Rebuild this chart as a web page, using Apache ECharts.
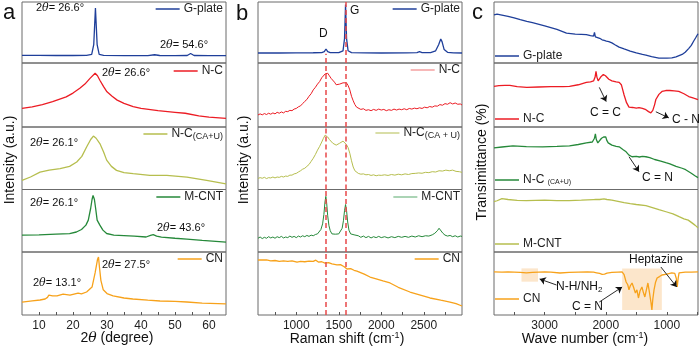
<!DOCTYPE html>
<html>
<head>
<meta charset="utf-8">
<script src="https://cdn.jsdelivr.net/npm/echarts@6/dist/echarts.min.js"></script>
<style>
html, body { margin: 0; padding: 0; background: #fff; }
#chart { width: 700px; height: 346px; }
</style>
</head>
<body>
<div id="chart"></div>
<script>
// ---- data (y values are relative intensity inside each stacked strip, 0-100) ----

// panel a: XRD, 2theta (degree)
const xrdGplate = [[5,12.5],[10,12.5],[15,12.3],[20,12.3],[24,12.5],[25.5,14],[26.1,30],[26.6,90],[27.1,30],[27.7,14],[29,12.5],[35,12.2],[42,12.2],[44,13.5],[45.5,12.3],[50,12],[53.6,12.3],[54.6,15.5],[55.6,12.3],[60,12],[65,12]];
const xrdNC = [[5,29],[8,31.5],[11,35],[14,39.5],[18,47],[20,53],[22,60.5],[23.5,67],[25,76],[26.5,84],[27.2,80],[27.9,73],[29,63],[30,55],[31.5,48],[33,42],[35,37],[37.7,32],[40,29],[45,25.5],[50,23],[53,21.5],[57,17.5],[60,15.5],[65,13.5]];
const xrdNCCAU = [[5,14.5],[7.5,20],[10.3,27.9],[13,31],[16.2,33.3],[19,37],[21.1,44],[22.6,53],[24,68],[25.2,80],[26,85.5],[26.8,82],[27.9,73.5],[29,60],[29.9,47],[31.3,37],[32.8,30.6],[35,27],[37.7,25.3],[42.6,22.6],[47.6,22.6],[53.5,19.9],[59.3,14.5],[65,9.1]];
const xrdMCNT = [[5,27],[10,27.5],[15,28.6],[19,29.5],[21,32],[22.5,36],[23.8,43],[24.5,51],[25.2,70],[25.6,84],[25.9,90.5],[26.3,84],[26.7,68],[27.1,51],[27.9,43],[28.8,35],[29.9,29.6],[32,27],[38,25.4],[41.5,24],[42.8,26.5],[43.6,27.8],[44.6,25.5],[46,23.8],[50,22],[53.5,20.6],[58,18.5],[65,15.9]];
const xrdCN = [[5,20.6],[8,22.5],[10.3,23.8],[11.8,25.4],[12.5,28],[12.9,31.7],[14,30.5],[15.3,30.2],[17.1,33.3],[19.1,31.7],[21.5,34.9],[22.5,33.5],[24,36.5],[25.6,44.4],[26.5,66.7],[27.2,88],[27.5,92],[27.8,75],[28.2,55],[28.9,40],[30,34],[31.8,30.2],[35,27],[37.6,25.4],[42,23.5],[45.6,22.2],[50,21.5],[53.5,20.6],[58,19],[65,17.5]];

// panel b: Raman shift (cm-1)
const ramanGplate = [[550,16.4],[800,16.4],[1000,16.6],[1200,16.8],[1300,17],[1330,18.5],[1350,23],[1370,18.5],[1400,17],[1500,17],[1550,20],[1568,40],[1580,96],[1592,40],[1610,20],[1650,17],[1800,16.6],[2000,16.4],[2300,16.5],[2420,17],[2450,18.5],[2480,17],[2580,17],[2640,20],[2675,30],[2700,39.3],[2715,35],[2740,22],[2780,17.5],[2850,16.5],[2950,16.4]];
const ramanNC = [[550,18.8],[575,20.5],[600,19],[625,21],[650,19.5],[675,21.5],[700,20],[725,22],[750,20.5],[775,23],[800,21.5],[825,23.5],[850,22],[875,24.5],[900,24],[925,26],[950,25.5],[975,28],[1000,29],[1025,31.5],[1050,33],[1075,36.5],[1100,40],[1125,43],[1150,48],[1175,52],[1200,58],[1225,62],[1250,67],[1275,71],[1300,77],[1320,80],[1340,83],[1355,86],[1370,84],[1390,80],[1410,76],[1430,73],[1450,70],[1470,66],[1490,64],[1510,67],[1530,66],[1550,69],[1570,71],[1590,69],[1610,65],[1630,58],[1650,48],[1670,41],[1690,35],[1710,31],[1730,29],[1760,27.5],[1790,28.5],[1820,26],[1850,27],[1880,25.5],[1910,27.5],[1940,26],[1970,28],[2000,26.5],[2030,27.5],[2060,25.5],[2090,27],[2120,26],[2150,28],[2180,26.5],[2210,28],[2240,27],[2270,28.5],[2300,27],[2330,29],[2360,28],[2390,29.5],[2420,28.5],[2450,30],[2480,29],[2510,31],[2540,30],[2570,32],[2600,31],[2630,33],[2660,32.5],[2690,35],[2720,34],[2750,36.5],[2780,35.5],[2810,38],[2840,36],[2870,37.5],[2900,35.5],[2930,36],[2950,34.4]];
const ramanNCCAU = [[550,17.7],[575,19],[600,18],[625,19.5],[650,17.5],[675,19],[700,18.5],[725,20],[750,18.5],[775,20],[800,19.4],[825,21],[850,20],[875,21.5],[900,21],[925,23],[950,23],[975,25],[1000,25.8],[1025,28],[1050,30],[1075,32.5],[1100,34],[1125,37],[1150,40],[1175,45],[1200,50],[1225,56],[1250,63],[1275,69],[1300,76],[1320,82],[1340,87],[1355,86],[1370,84],[1390,80],[1410,77],[1430,74],[1450,72],[1470,71],[1490,72],[1510,74],[1530,76],[1550,77.4],[1570,76],[1590,72],[1610,67],[1630,58],[1650,46],[1670,36],[1690,30],[1710,27],[1730,25.8],[1760,24.5],[1790,25],[1820,23.5],[1850,24],[1880,22.5],[1910,23.5],[1940,22],[1970,23],[2000,22.6],[2040,23.5],[2080,22.5],[2120,24],[2160,23],[2200,24.5],[2240,23.5],[2280,25],[2320,24],[2360,25.5],[2400,25.8],[2440,26.5],[2480,26],[2520,27.5],[2560,27],[2600,28.5],[2640,28],[2680,30],[2720,29.5],[2760,31],[2800,30],[2840,31],[2880,29],[2920,28.5],[2950,27.4]];
const ramanMCNT = [[550,22],[575,24],[600,21.5],[625,23.5],[650,22],[675,24.5],[700,22.5],[725,24],[750,22],[775,24.5],[800,23],[825,25],[850,22.5],[875,24],[900,23],[925,25.5],[950,23.5],[975,25],[1000,23],[1025,25.5],[1050,24],[1075,26],[1100,24.5],[1125,26.5],[1150,25],[1175,27],[1200,26],[1225,28],[1250,29],[1270,31],[1290,36],[1310,45],[1325,60],[1338,80],[1348,89],[1358,78],[1370,58],[1385,42],[1400,34],[1420,29],[1440,27],[1460,28.5],[1480,27],[1500,29],[1520,31],[1540,38],[1555,50],[1568,66],[1580,76],[1592,66],[1605,48],[1620,35],[1640,29],[1660,26],[1680,27.5],[1700,24.5],[1730,26],[1760,23.5],[1790,25.5],[1820,23],[1850,25],[1880,22.5],[1910,24.5],[1940,23],[1970,25],[2000,23],[2040,24.5],[2080,22.5],[2120,24.5],[2160,23],[2200,25],[2240,23.5],[2280,25],[2320,23.5],[2360,25.5],[2400,24],[2440,26],[2480,24.5],[2520,26],[2560,25.5],[2600,27.5],[2630,30],[2660,34],[2680,38],[2700,35],[2725,30],[2750,27],[2780,25.5],[2810,26.5],[2840,24.5],[2870,26],[2900,24],[2930,25.5],[2950,25]];
const ramanCN = [[550,87.3],[650,87.5],[700,86],[750,86.5],[800,85],[850,86],[900,85],[950,86],[1009,84.1],[1050,85],[1100,84.5],[1150,85.5],[1200,85],[1230,87],[1260,84],[1300,84.5],[1338,82.5],[1380,83],[1420,81],[1479,79.4],[1520,80],[1560,77],[1597,73],[1640,73.5],[1680,71],[1714,69.8],[1800,65],[1868,60.3],[1950,57],[2020,54],[2103,50.8],[2200,44],[2338,36.5],[2450,32],[2573,27],[2700,23.5],[2809,20.6],[2880,18],[2950,14.3]];
const ramanBands = [1350, 1580]; // D, G

// panel c: FTIR, wave number (cm-1)
const ftirGplate = [[3830,79],[3780,80],[3700,78.5],[3600,76.5],[3500,74],[3400,71],[3293,68.2],[3200,66],[3000,61],[2800,55],[2643,49],[2500,47.5],[2400,47],[2318,46.5],[2250,45],[2200,44],[2185,50],[2170,43],[2100,40.5],[2060,38],[2040,41],[2025,37],[2010,40],[1990,36],[1950,35],[1900,33],[1850,30],[1782,26],[1700,23],[1600,19.5],[1500,16.5],[1400,14],[1343,13],[1250,10.5],[1130,8.1],[1000,8],[918,8.5],[850,10],[750,14],[700,17.7],[640,24],[600,29],[560,36],[530,41],[490,48]];
const ftirNC = [[3830,63.5],[3750,64.5],[3650,65],[3570,65.1],[3450,63],[3293,62],[3100,62.5],[2900,63],[2700,63],[2594,63.5],[2450,66],[2318,69.8],[2250,70.5],[2200,72],[2175,78],[2160,87],[2145,78],[2125,72],[2100,74],[2075,79],[2060,78],[2040,82],[2024,84],[2005,80],[1990,83],[1976,81],[1950,74.6],[1900,72],[1830,70.5],[1780,69.8],[1745,66],[1733,62],[1700,50],[1660,38],[1620,31],[1560,30.5],[1500,29.5],[1457,30.2],[1400,29],[1343,27],[1300,24],[1262,22],[1230,26],[1200,35],[1180,43],[1130,51],[1080,55.5],[1017,57],[950,57],[880,56.5],[805,55.6],[720,52],[642,47.6],[560,45],[490,42.9]];
const ftirNCCAU = [[3830,66.7],[3700,68],[3520,69.8],[3300,68.5],[3033,68.3],[2800,69],[2594,69.8],[2450,72],[2318,74.6],[2220,76],[2185,82],[2170,88.9],[2155,80],[2130,74.6],[2100,77],[2070,82],[2057,81],[2035,84],[2000,84.1],[1985,79],[1960,74.6],[1900,71],[1830,69],[1780,68.3],[1720,64],[1667,60.3],[1620,55],[1570,52.4],[1500,53],[1450,52],[1400,53],[1343,52.4],[1280,51],[1200,48],[1100,45.5],[1017,42.9],[950,41],[850,37],[750,34],[692,31.7],[600,26],[540,22],[490,19]];
const ftirMCNT = [[3830,80.6],[3780,82],[3700,85.5],[3600,84],[3450,82.5],[3300,82.3],[3000,83],[2800,82.3],[2600,82.3],[2400,83],[2200,83.9],[2180,86],[2165,84],[2100,84],[2030,85],[2000,87],[1980,84],[1900,83],[1780,80.6],[1700,79],[1600,77.4],[1500,76],[1343,74.2],[1250,71.5],[1130,67.7],[1000,64],[900,61],[800,56.5],[720,53],[650,51],[594,47],[540,43],[490,38.7]];
const ftirCN = [[3830,68.3],[3700,68],[3600,68.5],[3500,68],[3400,67.5],[3300,67],[3200,67.5],[3100,68],[3000,68.3],[2900,68],[2750,66.7],[2600,67.5],[2450,68],[2300,68.3],[2200,68],[2150,67],[2100,66],[2060,64.5],[2020,65],[1980,66.5],[1900,67.5],[1800,68],[1733,68.3],[1700,64],[1667,52.4],[1640,48],[1620,40],[1600,46],[1570,50.8],[1545,44],[1515,35],[1490,40],[1465,27],[1440,38],[1408,44.4],[1385,36],[1360,28.6],[1335,40],[1310,50.8],[1285,36],[1260,20],[1245,8],[1230,25],[1210,40],[1185,52],[1160,58.7],[1120,61],[1080,63.5],[1000,65],[920,66.7],[870,66],[845,58],[830,44.4],[815,58],[800,66.7],[700,68],[600,68],[490,68.3]];
const ftirBoxes = [[3380, 3110, 52.9, 74], [1732, 1082, 7.9, 74]];
// arrows: [x1, y1, x2, y2] in the strip's own data units
const arrowsNC = [[2106, 61.9, 1993, 39.7], [1180, 23.8, 968, 14.3]];
const arrowsNCCAU = [[1619, 52.4, 1456, 28.6]];
const arrowsCN = [[1098, 76.2, 838, 44.4], [2806, 47.6, 3082, 57.1], [2106, 20.6, 1732, 44.4]];

// tick values
const xrdTicks = [10, 15, 20, 25, 30, 35, 40, 45, 50, 55, 60];
const xrdLabels = [10, 20, 30, 40, 50, 60];
const ramanTicks = [750, 1000, 1250, 1500, 1750, 2000, 2250, 2500, 2750];
const ramanLabels = [1000, 1500, 2000, 2500];
const ftirTicks = [500, 1000, 1500, 2000, 2500, 3000, 3500];
const ftirLabels = [1000, 2000, 3000];

// ---- layout ----
const FONT = 'Liberation Sans, Arial, sans-serif';
const rowTops = [2, 63, 127, 189.5, 252];
const rowBottom = 315;
const C = { blue: '#1f3f9a', red: '#ec1c24', olive: '#b6be4e', green: '#26893a', orange: '#f7a21b' };

const panels = [
  { key: 'a', left: 22, width: 204, min: 5, max: 65, inverse: false, ticks: xrdTicks, labels: xrdLabels,
    legendSide: 'right', legendEdge: 223, legendY: [10, 72, 135, 198, 260],
    curves: [
      { data: xrdGplate, color: C.blue, label: 'G-plate' },
      { data: xrdNC, color: C.red, label: 'N-C' },
      { data: xrdNCCAU, color: C.olive, label: 'N-C{s|(CA+U)}' },
      { data: xrdMCNT, color: C.green, label: 'M-CNT' },
      { data: xrdCN, color: C.orange, label: 'CN' }
    ] },
  { key: 'b', left: 258, width: 204, min: 550, max: 2950, inverse: false, ticks: ramanTicks, labels: ramanLabels,
    legendSide: 'right', legendEdge: 460, legendY: [10, 71, 134, 198, 260],
    curves: [
      { data: ramanGplate, color: C.blue, label: 'G-plate' },
      { data: ramanNC, color: C.red, legendColor: '#f5a0a0', label: 'N-C', w: 1 },
      { data: ramanNCCAU, color: C.olive, legendColor: '#cdd38a', label: 'N-C{s|(CA + U)}', w: 1 },
      { data: ramanMCNT, color: C.green, legendColor: '#8fc69c', label: 'M-CNT', w: 1 },
      { data: ramanCN, color: C.orange, label: 'CN' }
    ] },
  { key: 'c', left: 494, width: 204, min: 490, max: 3830, inverse: true, ticks: ftirTicks, labels: ftirLabels,
    legendSide: 'left', legendEdge: 495, legendY: [57, 120, 181, 245, 300],
    curves: [
      { data: ftirGplate, color: C.blue, label: 'G-plate' },
      { data: ftirNC, color: C.red, label: 'N-C', arrows: arrowsNC },
      { data: ftirNCCAU, color: C.green, label: 'N-C {t|(CA+U)}', arrows: arrowsNCCAU },
      { data: ftirMCNT, color: C.olive, label: 'M-CNT' },
      { data: ftirCN, color: C.orange, label: 'CN', arrows: arrowsCN, boxes: ftirBoxes }
    ] }
];

const legendRich = {
  s: { fontSize: 9, fontFamily: FONT, color: '#222', padding: [5, 0, 0, 0] },
  t: { fontSize: 7, fontFamily: FONT, color: '#222', padding: [4, 0, 0, 0] }
};

const grids = [], xAxes = [], yAxes = [], series = [], legends = [];

panels.forEach(function (p) {
  p.curves.forEach(function (c, ri) {
    const idx = grids.length;
    const top = rowTops[ri];
    const h = (ri < 4 ? rowTops[ri + 1] : rowBottom) - top;
    const last = ri === 4;
    grids.push({ left: p.left, top: top, width: p.width, height: h, show: true,
      borderColor: '#6b6b6b', borderWidth: 1, backgroundColor: 'transparent' });
    xAxes.push({
      type: 'value', gridIndex: idx, min: p.min, max: p.max, inverse: p.inverse,
      axisLine: { show: false }, splitLine: { show: false },
      axisTick: { show: last, inside: true, length: 3, customValues: p.ticks, lineStyle: { color: '#555' } },
      axisLabel: { show: last, customValues: p.labels, margin: 5, fontSize: 12, color: '#222', fontFamily: FONT,
        formatter: function (v) { return String(v); } }
    });
    yAxes.push({ type: 'value', gridIndex: idx, min: 0, max: 100, show: false });

    const name = p.key + ri;
    const s = {
      type: 'line', name: name, xAxisIndex: idx, yAxisIndex: idx, data: c.data,
      showSymbol: false, symbol: 'none', animation: false, silent: true,
      lineStyle: { color: c.color, width: c.w || 1.3 }, itemStyle: { color: c.color }
    };
    if (p.key === 'b') {
      // dashed D / G guide lines
      const bandData = ri === 0
        ? [[{ coord: [ramanBands[0], 0] }, { coord: [ramanBands[0], 15] }],
           [{ coord: [ramanBands[1], 0] }, { coord: [ramanBands[1], 100] }]]
        : ramanBands.map(function (v) { return { xAxis: v }; });
      s.markLine = { silent: true, symbol: 'none', animation: false, label: { show: false },
        lineStyle: { color: '#e8484a', type: [5, 3], width: 1.5 }, data: bandData };
    }
    if (c.arrows) {
      s.markLine = { silent: true, symbol: ['none', 'arrow'], symbolSize: 6, animation: false,
        label: { show: false }, lineStyle: { color: '#111', type: 'solid', width: 0.9 },
        data: c.arrows.map(function (a) { return [{ coord: [a[0], a[1]] }, { coord: [a[2], a[3]] }]; }) };
    }
    if (c.boxes) {
      s.markArea = { silent: true, animation: false, itemStyle: { color: 'rgba(248,200,140,0.45)' },
        data: c.boxes.map(function (b) { return [{ coord: [b[0], b[2]] }, { coord: [b[1], b[3]] }]; }) };
    }
    series.push(s);

    const lg = {
      data: [{ name: name, itemStyle: { color: c.legendColor || c.color } }],
      icon: 'rect', itemWidth: 24, itemHeight: 1.5, padding: 0, itemGap: 0,
      top: p.legendY[ri] - 7, selectedMode: false,
      formatter: function () { return c.label; },
      textStyle: { fontSize: 12, fontFamily: FONT, color: '#222', padding: [0, 0, 0, -1], rich: legendRich }
    };
    if (p.legendSide === 'right') lg.right = 700 - p.legendEdge; else lg.left = p.legendEdge;
    legends.push(lg);
  });
});

// ---- text overlays ----
function txt(text, x, y, size, align, rotation) {
  return { type: 'text', x: x, y: y, rotation: rotation || 0, silent: true, z: 100,
    style: { text: text, font: size + 'px ' + FONT, fill: '#111', align: align || 'left', verticalAlign: 'middle',
      rich: {
        i: { fontStyle: 'italic', fontSize: size, fontFamily: 'DejaVu Serif, serif', fill: '#111' },
        sup: { fontSize: Math.round(size * 0.65), fontFamily: FONT, fill: '#111', padding: [0, 0, size * 0.55, 0] },
        sub: { fontSize: Math.round(size * 0.7), fontFamily: FONT, fill: '#111', padding: [size * 0.5, 0, 0, 0] }
      } } };
}

const graphics = [
  txt('a', 3, 13, 22), txt('b', 236, 14, 22), txt('c', 472, 13, 22),
  // panel a peak labels
  txt('2{i|θ}= 26.6°', 36, 8, 11), txt('2{i|θ}= 54.6°', 160, 45, 11),
  txt('2{i|θ}= 26.6°', 102, 73, 11), txt('2{i|θ}= 26.1°', 30, 143, 11),
  txt('2{i|θ}= 26.1°', 30, 203, 11), txt('2{i|θ}= 43.6°', 157, 228, 11),
  txt('2{i|θ}= 27.5°', 102, 265, 11), txt('2{i|θ}= 13.1°', 33, 283, 11),
  // panel b band labels
  txt('D', 319, 34, 12), txt('G', 350, 11, 12),
  // panel c labels
  txt('C = C', 590, 113, 12), txt('C - N', 672, 120, 12), txt('C = N', 642, 178, 12),
  txt('Heptazine', 629, 260, 12), txt('N-H/NH{sub|2}', 556, 287, 12), txt('C = N', 572, 307, 12),
  // axis titles
  txt('2{i|θ} (degree)', 117, 338, 14, 'center'),
  txt('Raman shift (cm{sup|-1})', 347, 339, 14, 'center'),
  txt('Wave number (cm{sup|-1})', 585, 339, 14, 'center'),
  txt('Intensity (a.u.)', 10, 160, 14, 'center', Math.PI / 2),
  txt('Intensity (a.u.)', 244, 160, 14, 'center', Math.PI / 2),
  txt('Transimittance (%)', 482, 162, 14, 'center', Math.PI / 2)
];

const chart = echarts.init(document.getElementById('chart'), null, { renderer: 'canvas' });
chart.setOption({
  animation: false,
  backgroundColor: '#fff',
  grid: grids,
  xAxis: xAxes,
  yAxis: yAxes,
  legend: legends,
  series: series,
  graphic: graphics
});
</script>
</body>
</html>
